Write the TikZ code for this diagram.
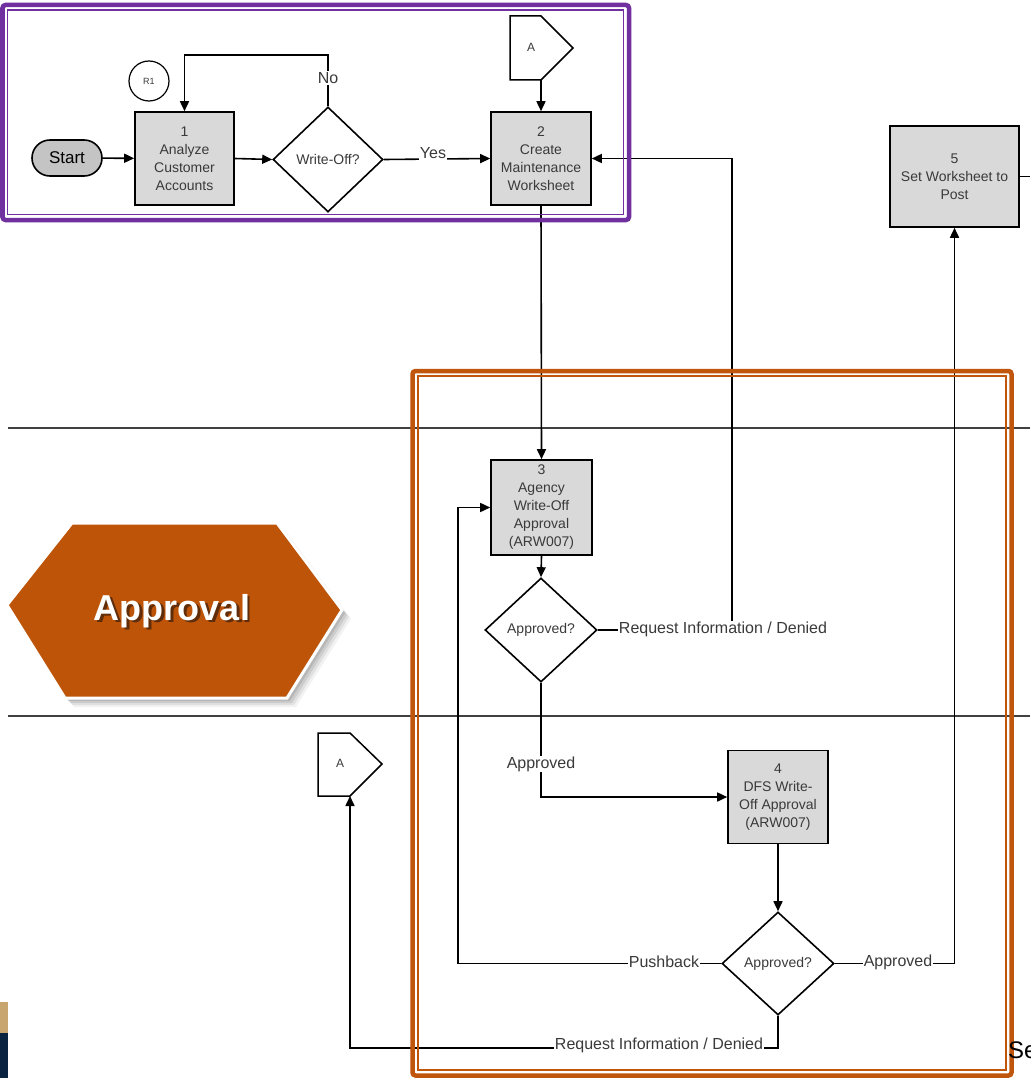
\documentclass[tikz,border=0pt]{standalone}
\usepackage{fontspec}
\setmainfont{Liberation Sans}
\usetikzlibrary{arrows.meta,shapes.geometric,calc}
\definecolor{frameorange}{RGB}{192,86,12}
\definecolor{framepurple}{RGB}{112,48,160}
\definecolor{boxgray}{RGB}{217,217,217}
\definecolor{termgray}{RGB}{196,196,196}
\definecolor{txtgray}{RGB}{58,58,58}
\definecolor{lanegray}{RGB}{64,64,64}
\definecolor{hexorange}{RGB}{190,84,8}
\definecolor{hexshade}{RGB}{95,45,10}
\definecolor{stripetan}{RGB}{200,165,110}
\definecolor{stripenavy}{RGB}{10,35,65}
\newcommand{\shadowedword}[1]{%
  \makebox[0pt][l]{\hspace{2.5pt}\raisebox{-2.5pt}[0pt][0pt]{\textcolor{hexshade}{#1}}}%
  \textcolor{white}{#1}}
\begin{document}
\begin{tikzpicture}[x=1pt,y=-1pt,
  procbox/.style={draw=black, line width=1.6pt, fill=boxgray, inner sep=0pt,
    align=center, text=txtgray, font=\fontsize{14}{18}\selectfont},
  decision/.style={diamond, draw=black, line width=1.6pt, fill=white, inner sep=0pt,
    text=txtgray, font=\fontsize{14}{17}\selectfont},
  flow/.style={line width=1.6pt, -{Triangle[length=10pt,width=9pt]}},
  link/.style={line width=1.6pt},
  edgelabel/.style={fill=white, inner sep=1pt, text=txtgray, font=\fontsize{16}{18}\selectfont},
  offpage/.style={line width=1.5pt, fill=white},
  hexshape/.style={fill=hexorange, draw=white, line width=3pt, line join=miter}
]
% page
\useasboundingbox (0,0) rectangle (1030,1078);
\fill[white] (0,0) rectangle (1030,1078);

% swimlane separators
\coordinate (laneAw) at (8,428);  \coordinate (laneAe) at (1030,428);
\coordinate (laneBw) at (8,716);  \coordinate (laneBe) at (1030,716);
\draw[lanegray, line width=1.8pt] (laneAw) -- (laneAe);
\draw[lanegray, line width=1.8pt] (laneBw) -- (laneBe);

% lane badge with soft shadow
\foreach \s/\o in {3/0.10,5/0.09,7/0.07,9/0.05}{
  \fill[black, opacity=\o] ($(7,605)+(\s,\s)$) -- ($(72,523)+(\s,\s)$) -- ($(277,523)+(\s,\s)$)
    -- ($(342,610)+(\s,\s)$) -- ($(287,698)+(\s,\s)$) -- ($(65,698)+(\s,\s)$) -- cycle;
}
\draw[hexshape] (7,605) -- (72,523) -- (277,523) -- (342,610) -- (287,698) -- (65,698) -- cycle;
\node[font=\fontsize{36}{40}\selectfont\bfseries] (badge) at (172,611) {\shadowedword{Approval}};

% process steps
\node[draw=black, line width=1.6pt, fill=termgray, rounded corners=18pt,
  minimum width=70pt, minimum height=36pt, inner sep=0pt,
  font=\fontsize{17}{20}\selectfont] (start) at (67,158) {Start};
\node[circle, draw=black, line width=1.2pt, minimum size=40pt, inner sep=0pt,
  text=txtgray, font=\fontsize{9}{10}\selectfont] (r1) at (149,81) {R1};
\node[procbox, minimum width=99pt, minimum height=93pt] (box1) at (184.5,158.5) {1\\Analyze\\Customer\\Accounts};
\node[decision, minimum width=110pt, minimum height=105pt] (d1) at (328,159.5) {Write-Off?};
\node[procbox, minimum width=100pt, minimum height=93pt] (box2) at (541,158.5) {2\\Create\\Maintenance\\Worksheet};
\node[procbox, minimum width=129pt, minimum height=101pt] (box5) at (954.5,176.5) {5\\Set Worksheet to\\Post};
\node[procbox, minimum width=101pt, minimum height=95pt] (box3) at (541.5,507.5) {3\\Agency\\Write-Off\\Approval\\(ARW007)};
\node[decision, minimum width=112pt, minimum height=104pt] (d2) at (541,630) {Approved?};
\node[procbox, minimum width=100pt, minimum height=93pt] (box4) at (778,797) {4\\DFS Write-\\Off Approval\\(ARW007)};
\node[decision, minimum width=112pt, minimum height=103pt] (d3) at (778,963.5) {Approved?};

% off-page connectors
\draw[offpage] (510,16) -- (541,16) -- (573,48) -- (541,80) -- (510,80) -- cycle;
\node[text=txtgray, font=\fontsize{12}{14}\selectfont] (atop) at (531,47) {A};
\coordinate (atopfoot) at (541,80);
\draw[offpage] (318,733) -- (350,733) -- (382,764) -- (350,796) -- (318,796) -- cycle;
\node[text=txtgray, font=\fontsize{12}{14}\selectfont] (abot) at (340,763) {A};
\coordinate (abotfoot) at (350,796);

% connectors
\draw[flow] (start) -- (box1);
\draw[flow] (box1.east) -- (d1.west);
\draw[flow] (d1.north) -- ++(0,-51) -| (box1.north);
\node[edgelabel] (lno) at (328,78) {No};
\draw[flow] (d1.east) -- (box2.west);
\node[edgelabel] (lyes) at (433,153) {Yes};
\draw[flow] (atopfoot) -- (box2.north);
\draw[flow] (box2.south) -- (box3.north);
\draw[flow] (box3.south) -- (d2.north);
\draw[flow] (d2.east) -- (732,630) |- (box2.east);
\node[edgelabel] (lreq1) at (723,629) {Request Information / Denied};
\draw[flow] (d2.south) |- (box4.west);
\node[edgelabel] (lapp1) at (541,764) {Approved};
\draw[flow] (box4.south) -- (d3.north);
\draw[flow] (d3.west) -- (458,963.5) |- (box3.west);
\node[edgelabel] (lpush) at (664,962) {Pushback};
\draw[flow] (d3.east) -| (box5.south);
\node[edgelabel] (lapp2) at (898,962) {Approved};
\draw[flow] (d3.south) |- (350,1048) -- (abotfoot);
\node[edgelabel] (lreq2) at (659,1045) {Request Information / Denied};
\coordinate (exit5) at (1030,176.5);
\draw[link] (box5.east) -- (exit5);

% highlight frames
\draw[framepurple, line width=4.5pt, rounded corners=3pt] (2.5,5) rectangle (629,220);
\draw[framepurple, line width=1.5pt] (7.5,10) rectangle (623.5,214.5);
\draw[frameorange, line width=4.5pt, rounded corners=3pt] (412.5,371) rectangle (1011.5,1075.5);
\draw[frameorange, line width=1.5pt] (418,376) rectangle (1006,1070);

% edge of neighbouring content
\fill[stripetan] (0,1002) rectangle (8,1033);
\fill[stripenavy] (0,1033) rectangle (8,1078);
\node[anchor=west, inner sep=0pt, font=\fontsize{24}{28}\selectfont] (tail) at (1008,1050) {Se};
\end{tikzpicture}
\end{document}
